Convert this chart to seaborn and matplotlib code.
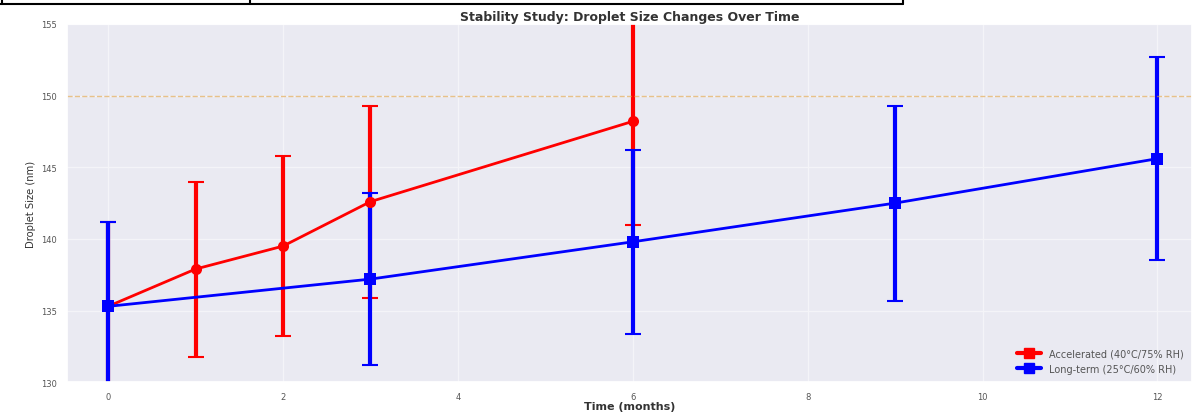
import pandas as pd
import seaborn as sns
import matplotlib.pyplot as plt
from matplotlib.lines import Line2D

# accelerated condition (40C / 75% RH)
acc_time = [0, 1, 2, 3, 6]
acc_size = [135.3, 137.9, 139.5, 142.6, 148.2]
acc_err = [5.9, 6.1, 6.3, 6.7, 7.2]

# long-term condition (25C / 60% RH)
lt_time = [0, 3, 6, 9, 12]
lt_size = [135.3, 137.2, 139.8, 142.5, 145.6]
lt_err = [5.9, 6.0, 6.4, 6.8, 7.1]

spec_limit = 150

df = pd.concat([
    pd.DataFrame({"time": acc_time, "size": acc_size, "err": acc_err,
                  "cond": "Accelerated (40°C/75% RH)"}),
    pd.DataFrame({"time": lt_time, "size": lt_size, "err": lt_err,
                  "cond": "Long-term (25°C/60% RH)"}),
])

sns.set_theme(style="darkgrid", rc={"grid.color": "#f4f4f8", "axes.facecolor": "#eaeaf2"})
plt.rcParams['font.family'] = ['DejaVu Sans']

fig = plt.figure(figsize=(11.96, 4.14), dpi=100)
ax = fig.add_axes([0.056, 0.074, 0.941, 0.866])

colors = {"Accelerated (40°C/75% RH)": "#ff0000", "Long-term (25°C/60% RH)": "#0000ff"}
markers = {"Accelerated (40°C/75% RH)": "o", "Long-term (25°C/60% RH)": "s"}

for cond, sub in df.groupby("cond", sort=False):
    ax.errorbar(sub["time"], sub["size"], yerr=sub["err"], fmt="none",
                ecolor=colors[cond], elinewidth=3, capsize=6, capthick=1.5, zorder=2)

sns.lineplot(data=df, x="time", y="size", hue="cond", style="cond",
             palette=colors, markers=markers, dashes=False, markersize=8,
             linewidth=2, markeredgewidth=0, ax=ax, legend=False, zorder=3)

ax.axhline(spec_limit, color="#e0a040", linestyle="--", linewidth=1, alpha=0.6)

ax.set_xlim(-0.47, 12.4)
ax.set_ylim(130, 155)
ax.set_xticks([0, 2, 4, 6, 8, 10, 12])
ax.set_yticks([130, 135, 140, 145, 150, 155])
ax.tick_params(labelsize=6, colors="#555555", pad=1)
ax.set_xlabel("Time (months)", fontsize=8, fontweight="bold", labelpad=0, color="#333333")
ax.set_ylabel("Droplet Size (nm)", fontsize=8, color="#333333", fontstretch="condensed")
ax.set_title("Stability Study: Droplet Size Changes Over Time", fontsize=9,
             fontweight="bold", color="#333333", pad=3)

handles = [Line2D([], [], color=colors[c], marker="s", markersize=7, linewidth=3)
           for c in colors]
ax.legend(handles, list(colors), loc="lower right", fontsize=7, frameon=False,
          labelcolor="#555555", handlelength=2.5)

# fragment of a page border at the top of the image
for seg in [([0.0, 0.755], [0.988, 0.988]), ([0.002, 0.002], [0.988, 1.0]),
            ([0.209, 0.209], [0.988, 1.0]), ([0.755, 0.755], [0.988, 1.0])]:
    fig.add_artist(Line2D(seg[0], seg[1], color="black", linewidth=1.5))

fig.savefig("out.png", dpi=100)
